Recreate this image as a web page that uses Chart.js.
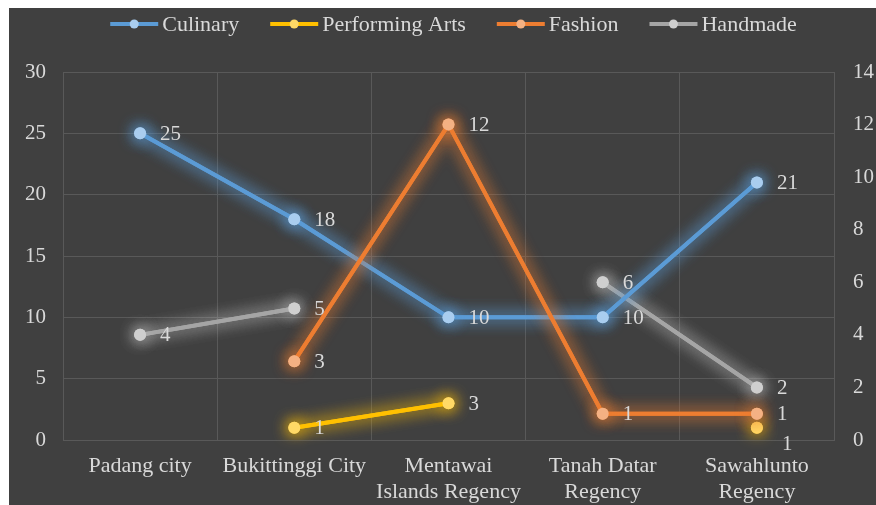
<!DOCTYPE html>
<html>
<head>
<meta charset="utf-8">
<script src="https://cdn.jsdelivr.net/npm/chart.js"></script>
<style>
  html, body { margin: 0; padding: 0; background: #ffffff; }
  #wrap { position: absolute; left: 9px; top: 8px; width: 867px; height: 497px; background: #404040; }
</style>
</head>
<body>
<div id="wrap"><canvas id="myChart" width="867" height="497"></canvas></div>
<script>
// dados
const categories = ['Padang city', 'Bukittinggi City', ['Mentawai', 'Islands Regency'], ['Tanah Datar', 'Regency'], ['Sawahlunto', 'Regency']];
const culinary = [25, 18, 10, 10, 21];
const performingArts = [null, 1, 3, null, 1];
const fashion = [null, 3, 12, 1, 1];
const handmade = [4, 5, null, 6, 2];
const leftTicks = { min: 0, max: 30, step: 5 };
const rightTicks = { min: 0, max: 14, step: 2 };

const FONT = '"Liberation Serif", "Times New Roman", serif';
const TEXT = '#d9d9d9';
const GRID = '#595959';

// glow de cada linha (desenha a serie mais uma vez com sombra forte)
const glowPlugin = {
    id: 'glow',
    beforeDatasetDraw(chart, args) {
        const ds = chart.data.datasets[args.index];
        chart.ctx.save();
        chart.ctx.shadowColor = ds.glowColor;
        chart.ctx.shadowBlur = 16;
    },
    afterDatasetDraw(chart, args) {
        // segunda passada para reforcar o brilho
        args.meta.controller.draw();
        chart.ctx.restore();
    }
};

// rotulos dos valores
const labelPlugin = {
    id: 'valueLabels',
    afterDatasetsDraw(chart) {
        const ctx = chart.ctx;
        ctx.save();
        ctx.font = '21px ' + FONT;
        ctx.fillStyle = TEXT;
        ctx.textBaseline = 'middle';
        ctx.textAlign = 'left';
        chart.data.datasets.forEach((ds, i) => {
            const meta = chart.getDatasetMeta(i);
            meta.data.forEach((pt, j) => {
                const v = ds.data[j];
                if (v === null) return;
                let dx = 20, dy = 0;
                if (ds.below && ds.below[j]) { dx = 25; dy = 16; }
                ctx.fillText(String(v), pt.x + dx, pt.y + dy + 1);
            });
        });
        ctx.restore();
    }
};

// legenda desenhada a mao (linha + ponto + texto)
const legendPlugin = {
    id: 'customLegend',
    afterDraw(chart) {
        const ctx = chart.ctx;
        const items = chart.data.datasets.slice().sort((a, b) => a.legendIndex - b.legendIndex);
        ctx.save();
        ctx.font = '22px ' + FONT;
        const lineW = 48, gapText = 4, gapItem = 31;
        let total = 0;
        items.forEach((ds, k) => {
            total += lineW + gapText + ctx.measureText(ds.label).width;
            if (k < items.length - 1) total += gapItem;
        });
        const area = chart.chartArea;
        let x = (area.left + area.right) / 2 - total / 2 + 5;
        const y = 16;
        items.forEach(ds => {
            ctx.strokeStyle = ds.borderColor;
            ctx.lineWidth = 4;
            ctx.beginPath();
            ctx.moveTo(x, y);
            ctx.lineTo(x + lineW, y);
            ctx.stroke();
            ctx.fillStyle = ds.pointBackgroundColor;
            ctx.beginPath();
            ctx.arc(x + lineW / 2, y, 4.5, 0, Math.PI * 2);
            ctx.fill();
            ctx.fillStyle = TEXT;
            ctx.textBaseline = 'middle';
            ctx.fillText(ds.label, x + lineW + gapText, y + 1);
            x += lineW + gapText + ctx.measureText(ds.label).width + gapItem;
        });
        ctx.restore();
    }
};

function serie(label, data, line, point, glow, axis, order, legendIndex) {
    return {
        label: label,
        data: data,
        yAxisID: axis,
        borderColor: line,
        backgroundColor: line,
        pointBackgroundColor: point,
        pointBorderWidth: 0,
        pointRadius: 6,
        borderWidth: 4,
        tension: 0,
        spanGaps: false,
        glowColor: glow,
        order: order,
        legendIndex: legendIndex
    };
}

const datasets = [
    serie('Culinary', culinary, '#5b9bd5', '#a9cdef', 'rgba(91,155,213,1)', 'yL', 1, 0),
    serie('Performing Arts', performingArts, '#ffc000', '#ffd966', 'rgba(255,192,0,0.9)', 'yL', 3, 1),
    serie('Fashion', fashion, '#ed7d31', '#f4b183', 'rgba(237,125,49,0.9)', 'yR', 0, 2),
    serie('Handmade', handmade, '#a5a5a5', '#cfcfcf', 'rgba(210,210,210,0.75)', 'yR', 2, 3)
];
datasets[1].below = [false, false, false, false, true];

Chart.defaults.font.family = FONT;
Chart.defaults.color = TEXT;

new Chart(document.getElementById('myChart').getContext('2d'), {
    type: 'line',
    data: { labels: categories, datasets: datasets },
    options: {
        responsive: false,
        animation: false,
        devicePixelRatio: 1,
        layout: { padding: { top: 64, left: 0, right: 0, bottom: 0 } },
        plugins: {
            legend: { display: false },
            tooltip: { enabled: false }
        },
        scales: {
            x: {
                offset: true,
                grid: { color: GRID, offset: true, drawTicks: false, lineWidth: 1 },
                border: { color: GRID },
                ticks: { font: { size: 22, lineHeight: 1.2 }, color: TEXT, padding: 13, maxRotation: 0, autoSkip: false },
                afterFit(scale) { scale.height = 65; }
            },
            yL: {
                position: 'left',
                min: leftTicks.min,
                max: leftTicks.max,
                ticks: { stepSize: leftTicks.step, font: { size: 21 }, color: TEXT, padding: 17 },
                grid: { color: GRID, drawTicks: false },
                border: { color: GRID },
                afterFit(scale) { scale.width = 54; }
            },
            yR: {
                position: 'right',
                min: rightTicks.min,
                max: rightTicks.max,
                ticks: { stepSize: rightTicks.step, font: { size: 21 }, color: TEXT, padding: 19 },
                grid: { display: false, drawTicks: false },
                border: { display: true, color: GRID },
                afterFit(scale) { scale.width = 42; }
            }
        }
    },
    plugins: [glowPlugin, labelPlugin, legendPlugin]
});
</script>
</body>
</html>
